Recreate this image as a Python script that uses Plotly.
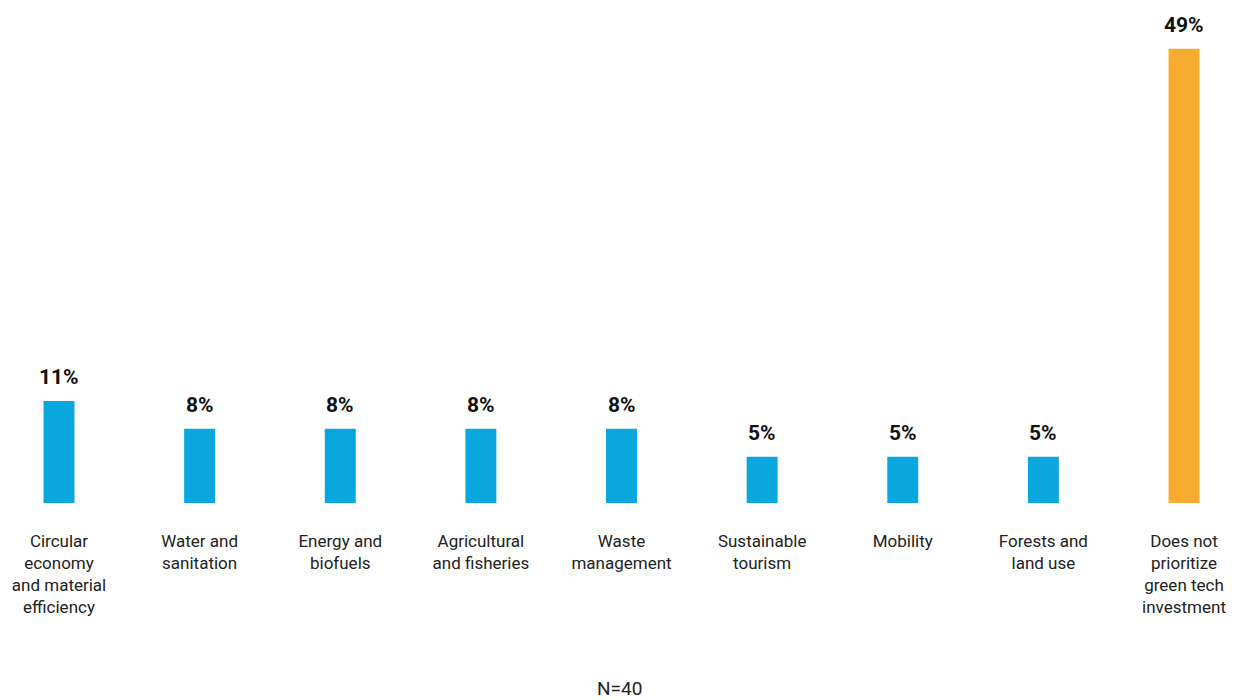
import plotly.graph_objects as go

# categories and shares (%)
categories = [
    "Circular<br>economy<br>and material<br>efficiency",
    "Water and<br>sanitation",
    "Energy and<br>biofuels",
    "Agricultural<br>and fisheries",
    "Waste<br>management",
    "Sustainable<br>tourism",
    "Mobility",
    "Forests and<br>land use",
    "Does not<br>prioritize<br>green tech<br>investment",
]
values = [11, 8, 8, 8, 8, 5, 5, 5, 49]
labels = ["11%", "8%", "8%", "8%", "8%", "5%", "5%", "5%", "49%"]
sample_note = "N=40"

BLUE = "#0AA6DE"
ORANGE = "#F7AC2F"
colors = [BLUE] * 8 + [ORANGE]

xs = list(range(len(categories)))

fig = go.Figure()
fig.add_trace(go.Bar(
    x=xs,
    y=values,
    width=0.22,
    marker=dict(color=colors, line=dict(width=0)),
    hoverinfo="skip",
))

# value labels above the bars
for x, v, t in zip(xs, values, labels):
    fig.add_annotation(
        x=x, y=v, text="<b>" + t + "</b>",
        showarrow=False, yanchor="bottom", yshift=10,
        font=dict(family="Roboto", size=21, color="#111111"),
    )

fig.add_annotation(
    x=0.5, y=0, xref="paper", yref="paper",
    text=sample_note, showarrow=False,
    xanchor="center", yanchor="middle", yshift=-185,
    font=dict(family="Roboto", size=19, color="#222222"),
)

fig.update_layout(
    width=1239, height=700,
    margin=dict(l=0, r=0, t=0, b=197),
    paper_bgcolor="white",
    plot_bgcolor="white",
    showlegend=False,
    font=dict(family="Roboto", size=17, color="#222222"),
    xaxis=dict(
        range=[-0.4196, 8.391],
        tickvals=xs,
        ticktext=categories,
        showgrid=False, zeroline=False, showline=False,
        ticks="", ticklabelstandoff=26,
        tickfont=dict(family="Roboto", size=17, color="#222222"),
    ),
    yaxis=dict(
        range=[0, 54.26],
        visible=False,
        showgrid=False, zeroline=False,
    ),
)

# page body has a default margin; drop it so the figure fills the window
fig.write_html(
    "out.html",
    config={"displayModeBar": False},
    post_script="document.body.style.margin='0';",
)
